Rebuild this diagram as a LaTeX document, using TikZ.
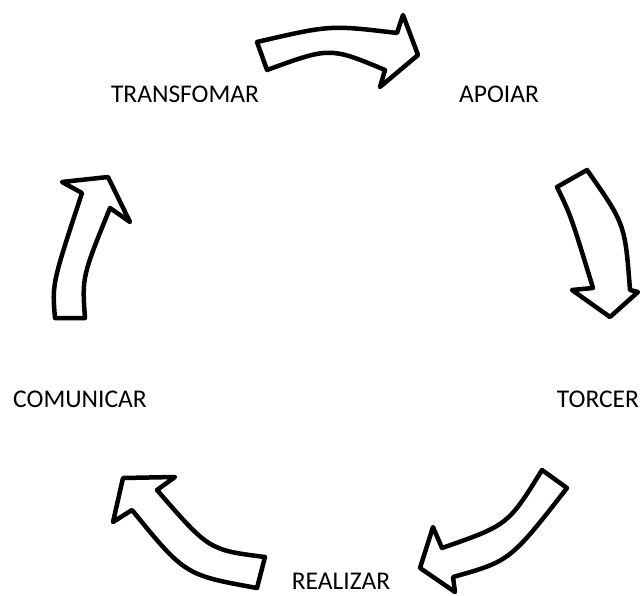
\documentclass[tikz,border=0pt]{standalone}
\usepackage{fontspec}
\setmainfont{Carlito}
\usepackage{tikz}
\tikzset{stage/.style = {inner sep=0pt, anchor=base, font=\fontsize{25.5}{30}\selectfont}}
\tikzset{blockarr/.style = {draw, line width=4.5pt, fill=white, line join=round}}

\begin{document}
\begin{tikzpicture}[x=1pt, y=-1pt]

\useasboundingbox (0,0) rectangle (640,596);

\node[stage] (transf) at (185,103) {TRANSFOMAR};
\node[stage] (apoiar) at (499,103) {APOIAR};
\node[stage] (torcer) at (598,407) {TORCER};
\node[stage] (realiz) at (341,589) {REALIZAR};
\node[stage] (comun) at (80,407) {COMUNICAR};

% transfomar -> apoiar
\draw[blockarr] (257,42) .. controls (330,25) .. (397,33) -- (403,15) -- (418,55)
  -- (380,87) -- (385,70) .. controls (330,47) .. (267,70) -- cycle;
% apoiar -> torcer
\draw[blockarr] (557,187) -- (587,170) .. controls (625,224) .. (630,290) -- (638,292)
  -- (610,317) -- (572,290) -- (593,288) .. controls (571,216) .. cycle;
% torcer -> realizar
\draw[blockarr] (542,470) -- (567,488) .. controls (510,561) .. (453,577) -- (455,592)
  -- (420,568) -- (433,527) -- (442,548) .. controls (508,525) .. cycle;
% realizar -> comunicar
\draw[blockarr] (265,557) -- (257,588) .. controls (185,575) .. (132,510) -- (113,522)
  -- (123,478) -- (175,477) -- (157,490) .. controls (209,550) .. cycle;
% comunicar -> transfomar
\draw[blockarr] (55,318) -- (85,318) .. controls (82,277) .. (110,208) -- (130,222)
  -- (108,177) -- (62,182) -- (82,193) .. controls (52,284) .. cycle;

\end{tikzpicture}
\end{document}
